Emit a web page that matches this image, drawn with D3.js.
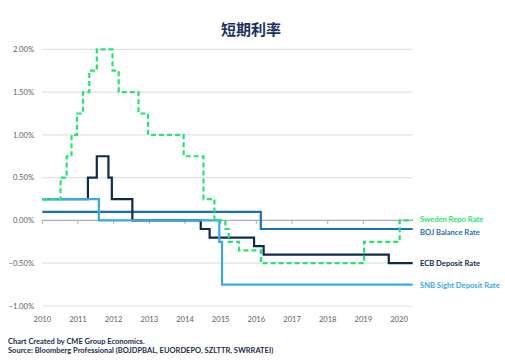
<!DOCTYPE html>
<html>
<head>
<meta charset="utf-8">
<script src="https://cdn.jsdelivr.net/npm/d3@7"></script>
<style>
  body { margin: 0; background: #fff; }
  svg { display: block; }
</style>
</head>
<body>
<div id="chart"></div>
<script>
// step changes of each policy rate (effective date, rate in %)
var swedenDates = ["2010-01-01", "2010-07-07", "2010-09-08", "2010-10-27", "2010-12-22", "2011-02-22", "2011-04-27",
  "2011-07-13", "2011-12-21", "2012-02-22", "2012-09-12", "2012-12-19", "2013-12-18", "2014-07-09", "2014-10-29",
  "2015-02-18", "2015-03-25", "2015-07-08", "2016-02-17", "2019-01-09", "2020-01-08", "2020-05-20"];
var swedenRates = [0.25, 0.5, 0.75, 1.0, 1.25, 1.5, 1.75, 2.0, 1.75, 1.5, 1.25, 1.0, 0.75, 0.25, 0.0,
  -0.1, -0.25, -0.35, -0.5, -0.25, 0.0, 0.0];

var bojDates = ["2010-01-01", "2016-02-16", "2020-05-20"];
var bojRates = [0.1, -0.1, -0.1];

var ecbDates = ["2010-01-01", "2011-04-13", "2011-07-13", "2011-11-09", "2011-12-14", "2012-07-11", "2014-06-11",
  "2014-09-10", "2015-12-09", "2016-03-16", "2019-09-18", "2020-05-20"];
var ecbRates = [0.25, 0.5, 0.75, 0.5, 0.25, 0.0, -0.1, -0.2, -0.3, -0.4, -0.5, -0.5];

var snbDates = ["2010-01-01", "2011-08-03", "2014-12-18", "2015-01-15", "2020-05-20"];
var snbRates = [0.25, 0.0, -0.25, -0.75, -0.75];

var yTicks = [2, 1.5, 1, 0.5, 0, -0.5, -1];
var seriesNames = ["Sweden Repo Rate", "BOJ Balance Rate", "ECB Deposit Rate", "SNB Sight Deposit Rate"];

var width = 505, height = 364;
var parseDate = d3.timeParse("%Y-%m-%d");

function toPoints(dates, rates) {
  return dates.map(function(d, i) { return { date: parseDate(d), rate: rates[i] }; });
}

var svg = d3.select("#chart").append("svg")
  .attr("width", width)
  .attr("height", height);

var x = d3.scaleTime()
  .domain([parseDate("2010-01-01"), parseDate("2020-05-20")])
  .range([42.3, 412.7]);

var y = d3.scaleLinear()
  .domain([-1, 2])
  .range([306, 49.3]);

// title
svg.append("text")
  .attr("x", 251)
  .attr("y", 35)
  .attr("text-anchor", "middle")
  .style("font-family", "'Noto Sans CJK SC', sans-serif")
  .style("font-weight", "bold")
  .style("font-size", "15px")
  .style("fill", "#1b2f66")
  .text("短期利率");

// horizontal grid lines
svg.selectAll(".grid")
  .data(yTicks)
  .enter()
  .append("line")
  .attr("x1", x.range()[0])
  .attr("x2", x.range()[1])
  .attr("y1", function(d) { return y(d); })
  .attr("y2", function(d) { return y(d); })
  .attr("stroke", function(d) { return d === 0 ? "#a9acb0" : "#e1e3e6"; })
  .attr("stroke-width", 1.2);

// y labels
svg.selectAll(".ylab")
  .data(yTicks)
  .enter()
  .append("text")
  .attr("x", 34)
  .attr("y", function(d) { return y(d) + 2.7; })
  .attr("text-anchor", "end")
  .style("font-family", "Lato, sans-serif")
  .style("font-size", "7.6px")
  .style("fill", "#5a5f66")
  .text(function(d) { return d3.format(".2f")(d) + "%"; });

// year ticks on the zero line
var years = x.ticks(d3.timeYear.every(1));
svg.selectAll(".ytick")
  .data(years)
  .enter()
  .append("line")
  .attr("x1", function(d) { return x(d); })
  .attr("x2", function(d) { return x(d); })
  .attr("y1", y(0))
  .attr("y2", y(0) + 3.5)
  .attr("stroke", "#a9acb0")
  .attr("stroke-width", 1);

svg.selectAll(".xlab")
  .data(years)
  .enter()
  .append("text")
  .attr("x", function(d) { return x(d); })
  .attr("y", 321.5)
  .attr("text-anchor", "middle")
  .style("font-family", "Lato, sans-serif")
  .style("font-size", "7.6px")
  .style("fill", "#5a5f66")
  .text(d3.timeFormat("%Y"));

var line = d3.line()
  .x(function(d) { return x(d.date); })
  .y(function(d) { return y(d.rate); })
  .curve(d3.curveStepAfter);

// drawing order: BOJ, ECB, SNB, Sweden on top
var series = [
  { name: seriesNames[1], data: toPoints(bojDates, bojRates), color: "#1b70b6", dash: null, labelY: 232 },
  { name: seriesNames[2], data: toPoints(ecbDates, ecbRates), color: "#0f2b4c", dash: null, labelY: 263 },
  { name: seriesNames[3], data: toPoints(snbDates, snbRates), color: "#37aae2", dash: null, labelY: 285.5 },
  { name: seriesNames[0], data: toPoints(swedenDates, swedenRates), color: "#22e66f", dash: "5,3", labelY: 219 }
];

series.forEach(function(s) {
  svg.append("path")
    .datum(s.data)
    .attr("d", line)
    .attr("fill", "none")
    .attr("stroke", s.color)
    .attr("stroke-width", 2.2)
    .attr("stroke-dasharray", s.dash);

  svg.append("text")
    .attr("x", 420)
    .attr("y", s.labelY + 2.7)
    .style("font-family", "Lato, sans-serif")
    .style("font-weight", "bold")
    .style("font-size", "7.6px")
    .style("fill", s.color)
    .text(s.name);
});

// footer
svg.append("text")
  .attr("x", 8)
  .attr("y", 344)
  .style("font-family", "Lato, sans-serif")
  .style("font-weight", "bold")
  .style("font-size", "7.5px")
  .style("fill", "#1d2b4a")
  .text("Chart Created by CME Group Economics.");

svg.append("text")
  .attr("x", 8)
  .attr("y", 353)
  .style("font-family", "Lato, sans-serif")
  .style("font-weight", "bold")
  .style("font-size", "7.5px")
  .style("fill", "#1d2b4a")
  .text("Source: Bloomberg Professional (BOJDPBAL, EUORDEPO, SZLTTR, SWRRATEI)");
</script>
</body>
</html>
